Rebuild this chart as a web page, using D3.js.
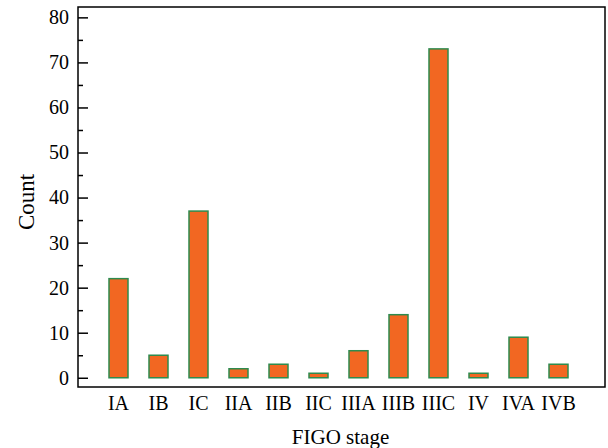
<!DOCTYPE html>
<html><head><meta charset="utf-8">
<script src="https://cdn.jsdelivr.net/npm/d3@7"></script>
<style>body{margin:0;background:#fff}svg{display:block}</style>
</head><body>
<svg id="c" width="608" height="448"></svg>
<script>
const categories = ["IA","IB","IC","IIA","IIB","IIC","IIIA","IIIB","IIIC","IV","IVA","IVB"];
const counts = [22,5,37,2,3,1,6,14,73,1,9,3];
const yMajorTicks = [0,10,20,30,40,50,60,70,80];
const yMinorTicks = [5,15,25,35,45,55,65,75];
const xTitle = "FIGO stage";
const yTitle = "Count";

const svg = d3.select("#c");
const L = 78, R = 605, T = 7, B = 387;
const font = "'Liberation Serif', 'Times New Roman', serif";
const fs = 20;

const x = d3.scaleBand().domain(categories).range([L, 599]).paddingInner(0.525).paddingOuter(0.775);
const y = d3.scaleLinear().domain([-2.05, 82.3]).range([B, T]);

// bars
svg.append("g").selectAll("rect").data(categories).join("rect")
  .attr("x", d => x(d))
  .attr("y", (d,i) => y(counts[i]))
  .attr("width", x.bandwidth())
  .attr("height", (d,i) => y(0) - y(counts[i]))
  .attr("fill", "#f26722")
  .attr("stroke", "#2e8b4e")
  .attr("stroke-width", 1.5);

// frame
svg.append("rect").attr("x", L).attr("y", T).attr("width", R - L).attr("height", B - T)
  .attr("fill", "none").attr("stroke", "#000").attr("stroke-width", 1.5);

// y axis
const yAxis = svg.append("g").attr("transform", `translate(${L},0)`)
  .call(d3.axisLeft(y).tickValues(yMajorTicks).tickSizeInner(-10).tickSizeOuter(0).tickPadding(9));
yAxis.select(".domain").remove();
yAxis.selectAll(".tick line").attr("stroke-width", 1.5);
yAxis.selectAll("text").attr("font-family", font).attr("font-size", fs).attr("fill", "#000");
const yMinor = svg.append("g").attr("transform", `translate(${L},0)`)
  .call(d3.axisLeft(y).tickValues(yMinorTicks).tickSizeInner(-5).tickSizeOuter(0).tickFormat(""));
yMinor.select(".domain").remove();
yMinor.selectAll(".tick line").attr("stroke-width", 1.5);

// x axis labels
const xAxis = svg.append("g").attr("transform", `translate(0,${B})`)
  .call(d3.axisBottom(x).tickSize(0).tickPadding(9));
xAxis.select(".domain").remove();
xAxis.selectAll("text").attr("font-family", font).attr("font-size", fs).attr("fill", "#000");

// titles
svg.append("text").attr("x", (L + R) / 2 - 1).attr("y", 444)
  .attr("text-anchor", "middle").attr("font-family", font).attr("font-size", 21).attr("fill", "#000")
  .text(xTitle);
svg.append("text").attr("transform", `translate(34,${(T + B) / 2 + 5}) rotate(-90)`)
  .attr("text-anchor", "middle").attr("font-family", font).attr("font-size", 23).attr("fill", "#000")
  .text(yTitle);
</script>
</body></html>
